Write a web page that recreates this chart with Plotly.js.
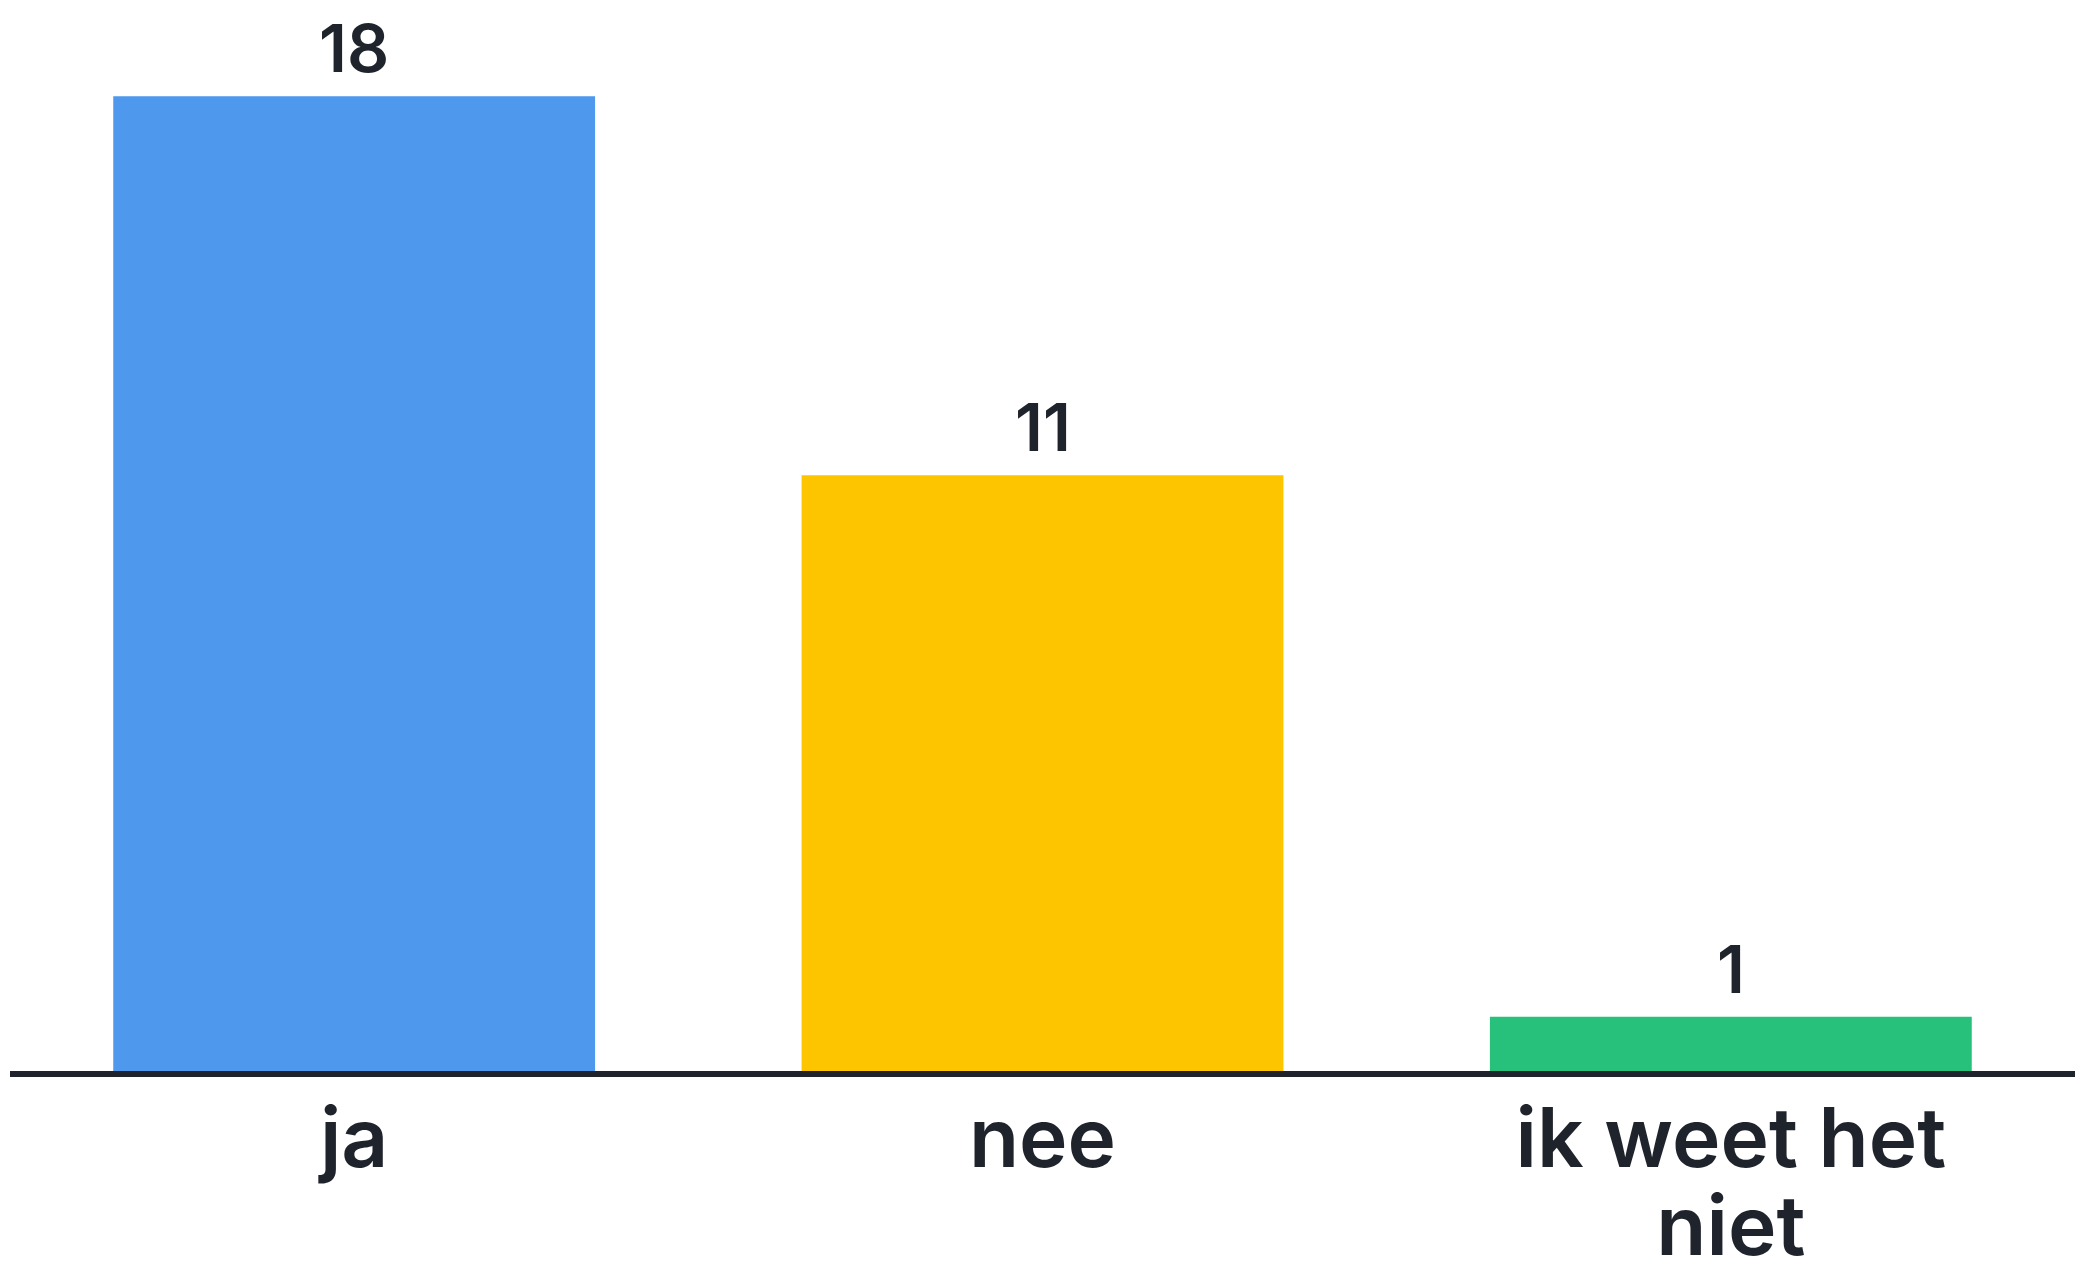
<!DOCTYPE html>
<html>
<head>
<meta charset="utf-8">
<script src="https://cdn.plot.ly/plotly-3.0.1.min.js"></script>
<style>html,body{margin:0;padding:0;background:#fff;}#chart{width:2085px;height:1268px;}</style>
</head>
<body>
<div id="chart"></div>
<script>
const categories = ['ja', 'nee', 'ik weet het niet'];
const tickLines = [['ja'], ['nee'], ['ik weet het', 'niet']];
const values = [18, 11, 1];
const barColors = ['#4e98ed', '#fdc400', '#27c17b'];

const FONT = 'Inter, "Open Sans", sans-serif';
const INK = '#1f232b';

// tick labels: glyphs drawn larger than the base size so the line spacing stays tight
const tickText = tickLines.map(lines =>
  lines.map(l => '<span style="font-size:82px">' + l + '</span>').join('<br>'));

const trace = {
  type: 'bar',
  x: categories,
  y: values,
  marker: {color: barColors},
  cliponaxis: false,
  hoverinfo: 'none'
};

const annotations = categories.map((c, i) => ({
  x: c,
  y: values[i],
  xref: 'x',
  yref: 'y',
  text: String(values[i]),
  showarrow: false,
  xanchor: 'center',
  yanchor: 'bottom',
  yshift: 6,
  font: {family: FONT, size: 66, weight: 600, color: INK}
}));

const layout = {
  width: 2085,
  height: 1268,
  margin: {l: 10, r: 10, t: 15, b: 197},
  paper_bgcolor: '#ffffff',
  plot_bgcolor: '#ffffff',
  bargap: 0.3,
  showlegend: false,
  annotations: annotations,
  xaxis: {
    tickmode: 'array',
    tickvals: categories,
    ticktext: tickText,
    showline: true,
    linewidth: 6,
    linecolor: INK,
    ticks: 'outside',
    ticklen: 8,
    tickcolor: 'rgba(0,0,0,0)',
    tickfont: {family: FONT, size: 68, weight: 600, color: INK},
    showgrid: false,
    zeroline: false
  },
  yaxis: {
    range: [0, 19.5],
    visible: false,
    showgrid: false,
    zeroline: false
  }
};

Plotly.newPlot('chart', [trace], layout, {displayModeBar: false, staticPlot: true});
</script>
</body>
</html>
